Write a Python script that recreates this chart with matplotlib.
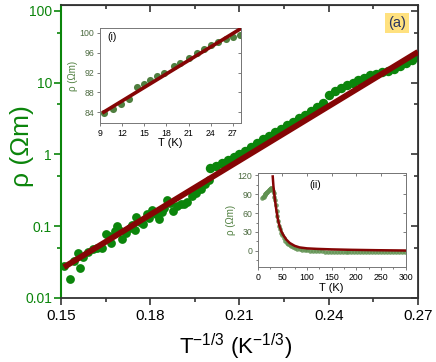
import matplotlib
matplotlib.use('Agg')
import matplotlib.pyplot as plt
from matplotlib.ticker import FixedLocator, NullFormatter, FuncFormatter

plt.rcParams['font.family'] = ['Liberation Sans', 'DejaVu Sans']
plt.rcParams['mathtext.default'] = 'regular'

# ---------------- data ----------------
# main panel: noisy high-T part
noisy_x = [0.1511, 0.1530, 0.1545, 0.1556, 0.1564, 0.1575, 0.1590, 0.1606, 0.1620, 0.1637,
           0.1651, 0.1660, 0.1669, 0.1680, 0.1688, 0.1695, 0.1705, 0.1720, 0.1733, 0.1740,
           0.1750, 0.1753, 0.1765, 0.1777, 0.1790, 0.1795, 0.1806, 0.1820, 0.1830, 0.1840,
           0.1845, 0.1856, 0.1865, 0.1878, 0.1890, 0.1905, 0.1912, 0.1925, 0.1940, 0.1955,
           0.1970, 0.1985, 0.1996]
noisy_rho = [0.028, 0.0185, 0.033, 0.042, 0.026, 0.0375, 0.044, 0.0475, 0.050, 0.049,
             0.079, 0.072, 0.059, 0.085, 0.100, 0.090, 0.067, 0.080, 0.093, 0.105,
             0.089, 0.135, 0.115, 0.109, 0.150, 0.130, 0.171, 0.150, 0.128, 0.160,
             0.182, 0.234, 0.210, 0.163, 0.190, 0.205, 0.206, 0.220, 0.260, 0.290,
             0.330, 0.390, 0.446]
# main panel: dense low-T part
dense_x = [0.200, 0.202, 0.204, 0.206, 0.208, 0.210, 0.212, 0.214, 0.216, 0.218,
           0.220, 0.222, 0.224, 0.226, 0.228, 0.230, 0.232, 0.234, 0.236, 0.238,
           0.240, 0.242, 0.244, 0.246, 0.248, 0.250, 0.252, 0.254, 0.256, 0.258,
           0.260, 0.262, 0.264, 0.266, 0.268, 0.270]
dense_rho = [0.640, 0.686, 0.754, 0.827, 0.908, 1.019, 1.131, 1.271, 1.427, 1.621,
             1.821, 2.044, 2.296, 2.549, 2.830, 3.178, 3.570, 4.010, 4.554, 5.294,
             6.673, 7.666, 8.512, 9.235, 10.02, 10.87, 11.79, 12.79, 13.38, 13.94,
             14.51, 15.75, 17.08, 18.75, 20.58, 22.59]
fit_x = [0.151, 0.270]
fit_rho = [0.0269, 26.85]

# inset (i)
T_i = [9.6, 10.8, 11.9, 12.9, 14.0, 14.9, 15.8, 16.7, 17.7, 19.0, 19.8, 21.0, 22.1,
       23.1, 24.1, 25.0, 26.0, 27.0, 27.9]
rho_i = [83.9, 84.7, 85.7, 86.6, 89.0, 89.7, 90.4, 91.3, 92.0, 93.4, 94.0, 94.9, 95.9,
         96.8, 97.6, 98.1, 98.7, 99.2, 99.6]
fit_i_T = [9.5, 28.1]
fit_i_rho = [84.0, 100.9]

# inset (ii)
T_ii = [9.6, 10.8, 11.9, 12.9, 14.0, 14.9, 15.8, 16.7, 17.7, 19.0, 19.8, 21.0, 22.1,
        23.1, 24.1, 25.0, 26.0, 27.0, 28.0, 29.5, 31, 32.5, 34, 35.5, 37, 38.5, 40, 42,
        44, 46, 48, 50, 53, 56, 59, 62, 65, 68, 72, 76, 80, 85, 90, 95, 100, 106, 112,
        118, 124, 130, 136, 142, 148, 154, 160, 166, 172, 178, 184, 190, 196, 202, 208,
        214, 220, 226, 232, 238, 244, 250, 256, 262, 268, 274, 280, 286, 292, 298]
rho_ii = [83.9, 84.7, 85.7, 86.6, 89.0, 89.7, 90.4, 91.3, 92.0, 93.4, 94.0, 94.9, 95.9,
          96.8, 97.6, 98.1, 98.7, 99.2, 99.6, 98, 95, 91, 86, 80, 72, 64, 56, 47,
          40, 34, 29, 25, 20, 16, 13, 11, 9, 7.5, 6, 4.8, 3.8, 2.8, 2.0, 1.3, 0.8, 0.3, 0,
          -0.3, -0.6, -0.8, -1.0, -1.2, -1.3, -1.4, -1.5, -1.6, -1.6, -1.7, -1.7, -1.7, -1.8, -1.8, -1.8,
          -1.8, -1.8, -1.8, -1.8, -1.8, -1.8, -1.8, -1.8, -1.8, -1.8, -1.8, -1.8, -1.8, -1.8, -1.8]
fit_ii_T = [30.5, 32, 34, 36, 38, 41, 44, 48, 52, 58, 65, 75, 85, 100, 120, 150, 190, 240, 300]
fit_ii_rho = [118, 102, 88, 75, 64, 50, 40, 31, 25, 18, 12.5, 8, 5.5, 4, 3.2, 2.4, 1.7, 1.1, 0.6]

# ---------------- styles ----------------
GREEN = '#0b850b'
RED = '#850505'
IN_GREEN = '#4f7f3f'
IN_GREEN2 = '#5f9150'
AXC = '#333333'

fig = plt.figure(figsize=(4.36, 3.62), dpi=100)
ax = fig.add_axes([0.1399, 0.1768, 0.8188, 0.8094])
ax.set_yscale('log')
ax.scatter(noisy_x, noisy_rho, s=40, color=GREEN, linewidths=0, zorder=2)
ax.scatter(dense_x, dense_rho, s=46, color=GREEN, linewidths=0, zorder=2)
ax.plot(fit_x, fit_rho, color=RED, lw=4.2, solid_capstyle='butt', zorder=3)
ax.set_xlim(0.15, 0.27)
ax.set_ylim(0.01, 121)

xmaj = [0.15, 0.18, 0.21, 0.24, 0.27]
xmin = [0.165, 0.195, 0.225, 0.255]
ymaj = [0.01, 0.1, 1, 10, 100]
ymin = [0.05, 0.5, 5, 50]
ax.xaxis.set_major_locator(FixedLocator(xmaj))
ax.xaxis.set_minor_locator(FixedLocator(xmin))
ax.yaxis.set_major_locator(FixedLocator(ymaj))
ax.yaxis.set_minor_locator(FixedLocator(ymin))
ax.xaxis.set_major_formatter(FuncFormatter(lambda v, p: f'{v:.2f}'))
ax.yaxis.set_major_formatter(FuncFormatter(lambda v, p: f'{v:g}'))
ax.yaxis.set_minor_formatter(NullFormatter())
ax.tick_params(axis='x', which='major', direction='out', length=5, width=1.2,
               labelsize=11, pad=3, color=AXC)
ax.tick_params(axis='x', which='minor', direction='out', length=3, width=1.2, color=AXC)
ax.tick_params(axis='y', which='major', direction='out', length=5, width=1.2,
               labelsize=10, pad=1.5, color=GREEN, labelcolor=GREEN)
ax.tick_params(axis='y', which='minor', direction='out', length=3, width=1.2, color=GREEN)
for s in ['top', 'right', 'bottom']:
    ax.spines[s].set_color(AXC)
    ax.spines[s].set_linewidth(1.3)
ax.spines['left'].set_color(GREEN)
ax.spines['left'].set_linewidth(1.5)

secx = ax.secondary_xaxis('top')
secx.xaxis.set_major_locator(FixedLocator(xmaj))
secx.xaxis.set_minor_locator(FixedLocator(xmin))
secx.xaxis.set_major_formatter(NullFormatter())
secx.tick_params(which='major', direction='in', length=5, width=1.2, color=AXC)
secx.tick_params(which='minor', direction='in', length=3, width=1.2, color=AXC)
secx.spines['top'].set_color(AXC)
secy = ax.secondary_yaxis('right')
secy.yaxis.set_major_locator(FixedLocator(ymaj))
secy.yaxis.set_minor_locator(FixedLocator(ymin))
secy.yaxis.set_major_formatter(NullFormatter())
secy.yaxis.set_minor_formatter(NullFormatter())
secy.tick_params(which='major', direction='in', length=5, width=1.2, color=AXC)
secy.tick_params(which='minor', direction='in', length=3, width=1.2, color=AXC)
secy.spines['right'].set_color(AXC)

ax.set_xlabel('T$^{-1/3}$ (K$^{-1/3}$)', fontsize=16, color='black')
ax.xaxis.set_label_coords(0.49, -0.115)
ax.set_ylabel('ρ (Ωm)', fontsize=19, color=GREEN)
ax.yaxis.set_label_coords(-0.075, 0.52)

fig.text(397 / 436, 1 - 23 / 362, '(a)', ha='center', va='center', fontsize=10.5,
         color='#2a3560', bbox=dict(facecolor='#FFE17F', edgecolor='none', pad=2.0))


def inset_style(a, ycolor):
    for s in a.spines.values():
        s.set_color('#777777')
        s.set_linewidth(0.7)
    a.tick_params(axis='both', which='both', direction='out', width=0.6,
                  labelsize=6.3, pad=1.5, color='#666666')
    a.tick_params(axis='both', which='major', length=2.5)
    a.tick_params(axis='both', which='minor', length=1.5)
    a.tick_params(axis='y', labelcolor=ycolor)


# inset (i)
a1 = fig.add_axes([0.2294, 0.6602, 0.3234, 0.2625])
a1.scatter(T_i, rho_i, s=26, color=IN_GREEN, linewidths=0, zorder=2)
a1.plot(fit_i_T, fit_i_rho, color=RED, lw=2.6, zorder=3)
a1.set_xlim(9, 28.1)
a1.set_ylim(81.8, 101)
a1.set_xticks([9, 12, 15, 18, 21, 24, 27])
a1.set_yticks([84, 88, 92, 96, 100])
inset_style(a1, '#4c6a40')
a1.set_xlabel('T (K)', fontsize=8, labelpad=0.5)
a1.set_ylabel('ρ (Ωm)', fontsize=7, color=IN_GREEN, labelpad=1)
a1.text(0.05, 0.9, '(i)', transform=a1.transAxes, fontsize=7.5, va='center')
r1 = a1.secondary_yaxis('right')
r1.set_yticks([84, 88, 92, 96, 100])
r1.yaxis.set_major_formatter(NullFormatter())
r1.tick_params(direction='in', length=2, width=0.6, color='#666666')
r1.spines['right'].set_color('#777777')
r1.spines['right'].set_linewidth(0.7)

# inset (ii)
a2 = fig.add_axes([0.5910, 0.2616, 0.3395, 0.2614])
a2.scatter(T_ii, rho_ii, s=11, color=IN_GREEN2, alpha=0.85, linewidths=0, zorder=2)
a2.plot(fit_ii_T, fit_ii_rho, color=RED, lw=1.8, zorder=3)
a2.set_xlim(0, 300)
a2.set_ylim(-26, 124)
a2.set_xticks([0, 50, 100, 150, 200, 250, 300])
a2.set_xticks([25, 75, 125, 175, 225, 275], minor=True)
a2.set_yticks([0, 30, 60, 90, 120])
a2.set_yticks([-15, 15, 45, 75, 105], minor=True)
inset_style(a2, '#4c6a40')
a2.set_xlabel('T (K)', fontsize=8, labelpad=0.5)
a2.set_ylabel('ρ (Ωm)', fontsize=7, color=IN_GREEN, labelpad=1)
a2.text(0.35, 0.87, '(ii)', transform=a2.transAxes, fontsize=7.5, va='center')
t2 = a2.secondary_xaxis('top')
t2.set_xticks([0, 50, 100, 150, 200, 250, 300])
t2.xaxis.set_major_formatter(NullFormatter())
t2.tick_params(direction='in', length=2, width=0.6, color='#666666')
t2.spines['top'].set_color('#777777')
t2.spines['top'].set_linewidth(0.7)
r2 = a2.secondary_yaxis('right')
r2.set_yticks([0, 30, 60, 90, 120])
r2.yaxis.set_major_formatter(NullFormatter())
r2.tick_params(direction='in', length=2, width=0.6, color='#666666')
r2.spines['right'].set_color('#777777')
r2.spines['right'].set_linewidth(0.7)

fig.savefig('out.png', dpi=100)
